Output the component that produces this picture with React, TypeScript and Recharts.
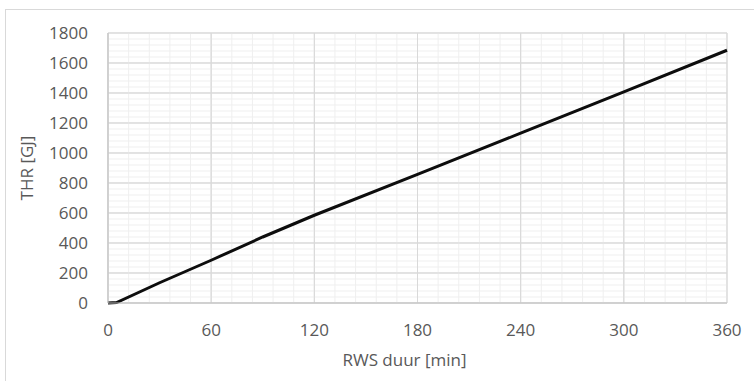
import React from "react";
import { LineChart, Line, XAxis, YAxis, CartesianGrid, ReferenceLine } from "recharts";

// Duration of the fire scenario [min] and the released heat [GJ]
const duurMin = [0, 5, 30, 60, 90, 120, 180, 240, 300, 360];
const thrGJ = [0, 3, 135, 285, 440, 585, 858, 1132, 1408, 1685];

const xTicks = [0, 60, 120, 180, 240, 300, 360];
const yTicks = [0, 200, 400, 600, 800, 1000, 1200, 1400, 1600, 1800];
const xMinor = [12, 24, 36, 48, 72, 84, 96, 108, 132, 144, 156, 168, 192, 204, 216, 228, 252, 264, 276, 288, 312, 324, 336, 348];
const yMinor = yTicks.slice(0, -1).flatMap((v) => [v + 40, v + 80, v + 120, v + 160]);

const data = duurMin.map((d, i) => ({ duur: d, thr: thrGJ[i] }));

const FONT = "'Open Sans', 'Noto Sans', sans-serif";
const TEXT = "#595959";

export default function App() {
  return (
    <div style={{ position: "fixed", left: 0, top: 0, width: 754, height: 381, background: "#fff", overflow: "hidden" }}>
      <div
        style={{
          position: "absolute",
          left: 5,
          top: 9,
          width: 800,
          height: 400,
          border: "1px solid #d9d9d9",
          boxSizing: "border-box",
        }}
      />
      <div style={{ position: "absolute", left: 0, top: 0 }}>
        <LineChart width={754} height={381} data={data} margin={{ top: 33, right: 27, bottom: 0, left: 0 }}>
          <CartesianGrid stroke="#d9d9d9" strokeWidth={1} horizontalValues={yTicks} verticalValues={xTicks} />
          {xMinor.map((v) => (
            <ReferenceLine key={"x" + v} x={v} stroke="#efefef" strokeWidth={1} ifOverflow="hidden" />
          ))}
          {yMinor.map((v) => (
            <ReferenceLine key={"y" + v} y={v} stroke="#efefef" strokeWidth={1} ifOverflow="hidden" />
          ))}
          {xTicks.map((v) => (
            <ReferenceLine key={"mx" + v} x={v} stroke="#d9d9d9" strokeWidth={1} />
          ))}
          {yTicks.map((v) => (
            <ReferenceLine key={"my" + v} y={v} stroke="#d9d9d9" strokeWidth={1} />
          ))}
          <XAxis
            dataKey="duur"
            type="number"
            domain={[0, 360]}
            ticks={xTicks}
            interval={0}
            height={78}
            axisLine={{ stroke: "#bfbfbf" }}
            tickLine={false}
            tickMargin={15}
            tick={{ fill: TEXT, fontSize: 17, fontFamily: FONT }}
            label={{
              value: "RWS duur [min]",
              position: "insideBottom",
              offset: 15,
              dx: -13,
              fill: TEXT,
              fontSize: 17,
              fontFamily: FONT,
            }}
          />
          <YAxis
            type="number"
            domain={[0, 1800]}
            ticks={yTicks}
            interval={0}
            width={108}
            axisLine={{ stroke: "#bfbfbf" }}
            tickLine={false}
            tickMargin={14}
            tick={{ fill: TEXT, fontSize: 17, fontFamily: FONT }}
            label={{
              value: "THR [GJ]",
              angle: -90,
              position: "insideLeft",
              offset: 27,
              fill: TEXT,
              fontSize: 17,
              fontFamily: FONT,
              style: { textAnchor: "middle" },
            }}
          />
          <Line
            dataKey="thr"
            type="linear"
            stroke="#0d0d0d"
            strokeWidth={3}
            dot={false}
            isAnimationActive={false}
          />
        </LineChart>
      </div>
    </div>
  );
}
